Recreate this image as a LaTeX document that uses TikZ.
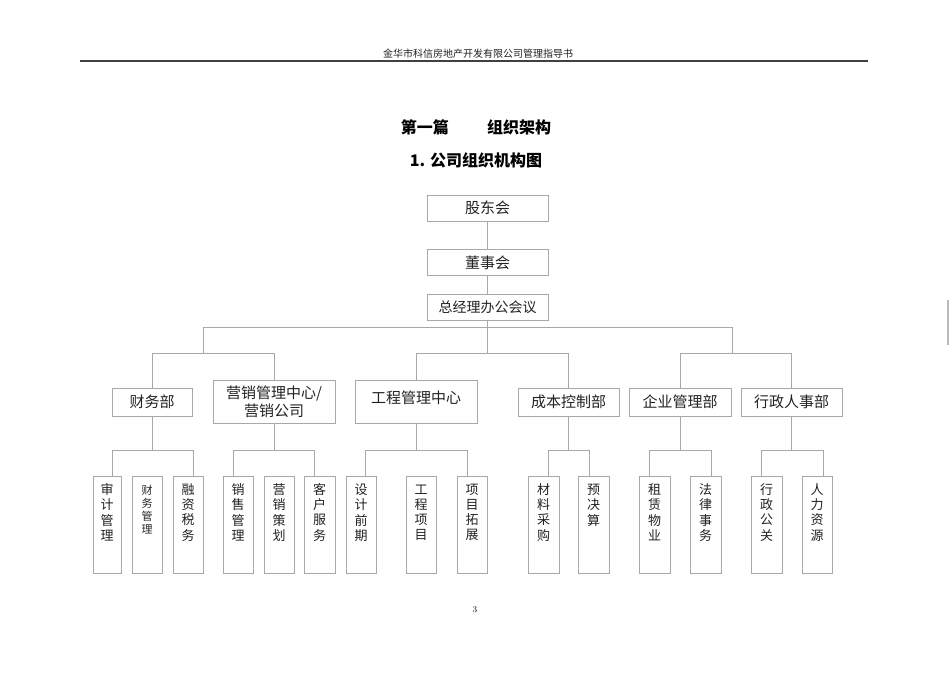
\documentclass[tikz,border=0pt]{standalone}
\usepackage{fontspec}
\usepackage{xcolor}
\usepackage{tikz}
\usetikzlibrary{positioning}
\newfontfamily\cjk{Noto Sans CJK SC}
\definecolor{linegray}{HTML}{A8A8A8}
\definecolor{inkgray}{HTML}{222222}
\newcommand{\colword}[1]{\begin{tabular}[t]{@{}c@{}}#1\end{tabular}}
\tikzstyle{board} = [rectangle, minimum width=121pt, minimum height=26pt, inner sep=0pt, text centered, draw=linegray, text=inkgray, font=\cjk\fontsize{15}{18}\selectfont]
\tikzstyle{dept} = [rectangle, minimum height=28pt, inner sep=0pt, align=center, draw=linegray, text=inkgray, font=\cjk\fontsize{15}{18}\selectfont]
\tikzstyle{unit} = [rectangle, anchor=north, minimum width=30pt, inner sep=0pt, text height=18pt, text depth=79pt, draw=linegray, text=inkgray, font=\cjk\fontsize{13}{15}\selectfont]
\tikzstyle{link} = [draw=linegray, line width=0.8pt]

\begin{document}
\begin{tikzpicture}[x=1pt, y=-1pt]
        % Page
        \fill [white] (0,0) rectangle (950,672);
        \useasboundingbox (0,0) rectangle (950,672);

        % Header
        \node (head) [font=\cjk\fontsize{10}{12}\selectfont, text=inkgray] at (478,54) {金华市科信房地产开发有限公司管理指导书};
        \draw [line width=1.6pt, black!75] (80,61) -- (868,61);
        \node (part) [font=\cjk\bfseries\fontsize{16}{18}\selectfont] at (476,127) {第一篇\hspace{2.4em}组织架构};
        \node (title) [font=\cjk\bfseries\fontsize{16}{18}\selectfont] at (476,160) {1. 公司组织机构图};

        % Board
        \node (gdh) [board] at (487.5,208) {股东会};
        \node (dsh) [board, below=28pt of gdh] {董事会};
        \node (zjl) [board, below=18pt of dsh, font=\cjk\fontsize{14}{16}\selectfont] {总经理办公会议};

        % Departments
        \node (cw) [dept, minimum width=80pt] at (152,402) {财务部};
        \node (yx) [dept, minimum width=122pt, minimum height=43pt] at (274,401.5) {营销管理中心/\\营销公司};
        \node (gc) [dept, minimum width=122pt, minimum height=43pt, text depth=9pt] at (416,401.5) {工程管理中心};
        \node (cb) [dept, minimum width=101pt] at (568.5,402) {成本控制部};
        \node (qy) [dept, minimum width=102pt] at (680,402) {企业管理部};
        \node (xz) [dept, minimum width=101pt] at (791.5,402) {行政人事部};

        % Units
        \node (sj) [unit, minimum width=28pt] at (107,476) {\colword{审\\计\\管\\理}};
        \node (cwgl) [unit, font=\cjk\fontsize{11}{13}\selectfont] at (147,476) {\colword{财\\务\\管\\理}};
        \node (rz) [unit] at (188,476) {\colword{融\\资\\税\\务}};
        \node (xs) [unit] at (238,476) {\colword{销\\售\\管\\理}};
        \node (yc) [unit] at (279,476) {\colword{营\\销\\策\\划}};
        \node (kf) [unit, minimum width=31pt] at (319.5,476) {\colword{客\\户\\服\\务}};
        \node (sq) [unit] at (361,476) {\colword{设\\计\\前\\期}};
        \node (gcxm) [unit] at (421,476) {\colword{工\\程\\项\\目}};
        \node (xmtz) [unit] at (472,476) {\colword{项\\目\\拓\\展}};
        \node (cl) [unit, minimum width=31pt] at (543.5,476) {\colword{材\\料\\采\\购}};
        \node (ysj) [unit, minimum width=31pt] at (593.5,476) {\colword{预\\决\\算}};
        \node (zl) [unit, minimum width=31pt] at (654.5,476) {\colword{租\\赁\\物\\业}};
        \node (fl) [unit, minimum width=31pt] at (705.5,476) {\colword{法\\律\\事\\务}};
        \node (xg) [unit, minimum width=31pt] at (766.5,476) {\colword{行\\政\\公\\关}};
        \node (rl) [unit] at (817,476) {\colword{人\\力\\资\\源}};

        % Bus levels
        \coordinate (busA) at (0,327);
        \coordinate (busB) at (0,353);
        \coordinate (busC) at (0,450);
        \coordinate (jl) at (203,353);
        \coordinate (jr) at (732,353);

        % Lines
        \draw [link] (gdh) -- (dsh);
        \draw [link] (dsh) -- (zjl);
        \draw [link] (zjl.south) -- (zjl.south |- busB);
        \draw [link] (jl) -- (jl |- busA) -- (jr |- busA) -- (jr);
        \draw [link] (cw.north) -- (cw.north |- busB) -| (yx.north);
        \draw [link] (gc.north) -- (gc.north |- busB) -| (cb.north);
        \draw [link] (qy.north) -- (qy.north |- busB) -| (xz.north);

        \draw [link] (cw.south) -- (cw.south |- busC);
        \draw [link] ([xshift=5pt]sj.north) -- ++(0,-26) -| ([xshift=5pt]rz.north);
        \draw [link] (yx.south) -- (yx.south |- busC);
        \draw [link] ([xshift=-5pt]xs.north) -- ++(0,-26) -| ([xshift=-5.5pt]kf.north);
        \draw [link] (gc.south) -- (gc.south |- busC);
        \draw [link] ([xshift=4pt]sq.north) -- ++(0,-26) -| ([xshift=-5pt]xmtz.north);
        \draw [link] (cb.south) -- (cb.south |- busC);
        \draw [link] ([xshift=4.5pt]cl.north) -- ++(0,-26) -| ([xshift=-4.5pt]ysj.north);
        \draw [link] (qy.south) -- (qy.south |- busC);
        \draw [link] ([xshift=-5.5pt]zl.north) -- ++(0,-26) -| ([xshift=5.5pt]fl.north);
        \draw [link] (xz.south) -- (xz.south |- busC);
        \draw [link] ([xshift=-5.5pt]xg.north) -- ++(0,-26) -| ([xshift=6pt]rl.north);

        % Footer
        \node (pno) [font=\fontsize{9}{10}\selectfont] at (475,610) {3};
        \draw [linegray!80, line width=1.2pt] (948,300) -- (948,345);
    \end{tikzpicture}
\end{document}
